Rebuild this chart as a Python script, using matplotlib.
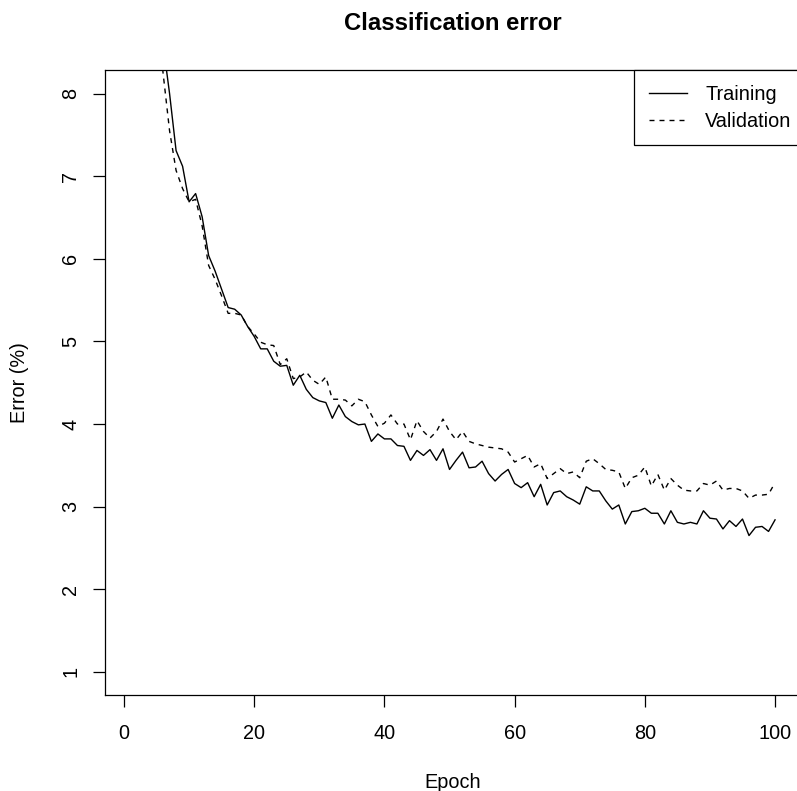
import matplotlib
matplotlib.use("Agg")
import matplotlib.pyplot as plt

plt.rcParams['font.family'] = ['Liberation Sans', 'DejaVu Sans']

epochs = list(range(1, 101))

# values above the top of the plot (epochs 1-6) are clipped in the original
training = [35.0, 18.0, 12.5, 10.4, 9.3, 8.6, 8.00, 7.31, 7.12, 6.69,
            6.79, 6.51, 6.04, 5.85, 5.63, 5.41, 5.39, 5.32, 5.18, 5.06,
            4.91, 4.91, 4.76, 4.70, 4.71, 4.47, 4.59, 4.42, 4.32, 4.28,
            4.26, 4.07, 4.23, 4.09, 4.03, 3.99, 4.00, 3.79, 3.88, 3.82,
            3.82, 3.74, 3.73, 3.56, 3.68, 3.62, 3.69, 3.56, 3.70, 3.45,
            3.56, 3.66, 3.47, 3.48, 3.55, 3.40, 3.31, 3.39, 3.45, 3.28,
            3.23, 3.29, 3.12, 3.27, 3.02, 3.17, 3.19, 3.12, 3.08, 3.03,
            3.24, 3.19, 3.19, 3.07, 2.97, 3.02, 2.79, 2.94, 2.95, 2.98,
            2.92, 2.92, 2.79, 2.95, 2.81, 2.79, 2.81, 2.79, 2.95, 2.86,
            2.85, 2.73, 2.83, 2.76, 2.85, 2.65, 2.75, 2.76, 2.70, 2.84]

validation = [34.0, 17.5, 12.2, 10.0, 9.0, 8.25, 7.55, 7.07, 6.85, 6.69,
              6.72, 6.40, 5.92, 5.75, 5.55, 5.34, 5.34, 5.32, 5.18, 5.09,
              4.99, 4.96, 4.95, 4.72, 4.79, 4.55, 4.57, 4.63, 4.53, 4.48,
              4.57, 4.30, 4.30, 4.29, 4.22, 4.30, 4.27, 4.11, 3.97, 4.01,
              4.11, 4.00, 4.00, 3.81, 4.04, 3.91, 3.83, 3.91, 4.06, 3.91,
              3.81, 3.91, 3.79, 3.76, 3.74, 3.72, 3.71, 3.70, 3.66, 3.54,
              3.58, 3.62, 3.48, 3.52, 3.34, 3.40, 3.46, 3.40, 3.42, 3.35,
              3.55, 3.58, 3.52, 3.45, 3.44, 3.42, 3.22, 3.35, 3.38, 3.48,
              3.25, 3.39, 3.20, 3.34, 3.26, 3.20, 3.19, 3.19, 3.28, 3.26,
              3.31, 3.20, 3.22, 3.22, 3.19, 3.10, 3.14, 3.14, 3.15, 3.29]

xticks = [0, 20, 40, 60, 80, 100]
yticks = [1, 2, 3, 4, 5, 6, 7, 8]

fig = plt.figure(figsize=(7.97, 7.91), dpi=100)
# right edge of the box sits just outside the picture, like the original
ax = fig.add_axes([0.1314, 0.1214, 0.8734, 0.7895])

ax.plot(epochs, training, color='black', lw=1.0, label='Training')
ax.plot(epochs, validation, color='black', lw=1.0, linestyle=(0, (3.6, 3.6)),
        label='Validation')

ax.set_xlim(-2.96, 103.96)
ax.set_ylim(0.72, 8.28)
ax.set_xticks(xticks)
ax.set_yticks(yticks)
ax.set_yticklabels([str(v) for v in yticks], rotation=90, va='center')
ax.tick_params(direction='out', length=8.6, width=0.9, labelsize=14.3,
               colors='black')
ax.tick_params(axis='x', pad=12)
ax.tick_params(axis='y', pad=9)
for s in ax.spines.values():
    s.set_linewidth(0.9)
    s.set_color('black')
ax.spines['right'].set_visible(False)

ax.set_xlabel('Epoch', fontsize=14.3, labelpad=22)
ax.set_ylabel('Error (%)', fontsize=14.3, labelpad=23.5)

fig.text(0.568, 0.9705, 'Classification error', fontsize=17.2,
         fontweight='bold', ha='center', va='center')

leg = ax.legend(loc='upper right', bbox_to_anchor=(1.0075, 1.0),
                fontsize=14.3, borderaxespad=0,
                fancybox=False, handlelength=1.9, handletextpad=0.95,
                borderpad=0.72, labelspacing=0.42, framealpha=1)
leg.get_frame().set_edgecolor('black')
leg.get_frame().set_linewidth(0.9)

plt.savefig('out.png', dpi=100)
